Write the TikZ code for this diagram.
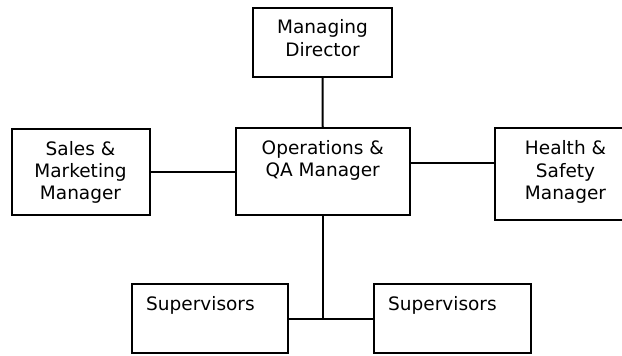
\documentclass[tikz,border=0pt]{standalone}
\usepackage{fontspec}
\setmainfont{DejaVu Sans}
\begin{document}
\begin{tikzpicture}[x=1pt,y=-1pt,
  box/.style={draw=black, line width=2pt, rectangle, inner sep=0pt},
  lbl/.style={inner sep=0pt, anchor=base, font=\fontsize{18.5}{22.3}\selectfont},
  link/.style={draw=black, line width=2pt}]
\clip (0,0) rectangle (622,356);
\fill[white] (0,0) rectangle (622,356);
% boxes
\node[box, minimum width=139pt, minimum height=69pt] (md) at (322.5,42) {};
\node[box, minimum width=173.5pt, minimum height=87pt] (ops) at (322.75,171.5) {};
\node[box, minimum width=138pt, minimum height=86pt] (sales) at (80.5,171.5) {};
\node[box, minimum width=141pt, minimum height=92pt] (hs) at (565.5,174.25) {};
\node[box, minimum width=156pt, minimum height=69pt] (supl) at (210,318.5) {};
\node[box, minimum width=156.5pt, minimum height=69pt] (supr) at (452.25,318.5) {};
% labels
\node[lbl] (mdt) at ([yshift=-27.5pt]md.north) {\parbox[t]{130pt}{\centering Managing\\Director}};
\node[lbl] (opst) at ([yshift=-27.5pt]ops.north) {\parbox[t]{165pt}{\centering Operations \&\\QA Manager}};
\node[lbl] (salest) at ([yshift=-27.5pt]sales.north) {\parbox[t]{130pt}{\centering Sales \&\\Marketing\\Manager}};
\node[lbl] (hst) at ([yshift=-27.5pt]hs.north) {\parbox[t]{130pt}{\centering Health \&\\Safety\\Manager}};
\node[lbl, anchor=base west] (suplt) at ([xshift=15pt,yshift=-27pt]supl.north west) {Supervisors};
\node[lbl, anchor=base west] (suprt) at ([xshift=15pt,yshift=-27pt]supr.north west) {Supervisors};
% connectors
\coordinate (j) at (ops.south |- supl.east);
\draw[link] (md.south) -- (ops.north);
\draw[link] (sales.east) -- (ops.west);
\draw[link] ([yshift=8.5pt]ops.east) -- ([yshift=8.5pt]ops.east -| hs.west);
\draw[link] (ops.south) -- (j);
\draw[link] (supl.east) -- (supr.west);
\end{tikzpicture}
\end{document}
